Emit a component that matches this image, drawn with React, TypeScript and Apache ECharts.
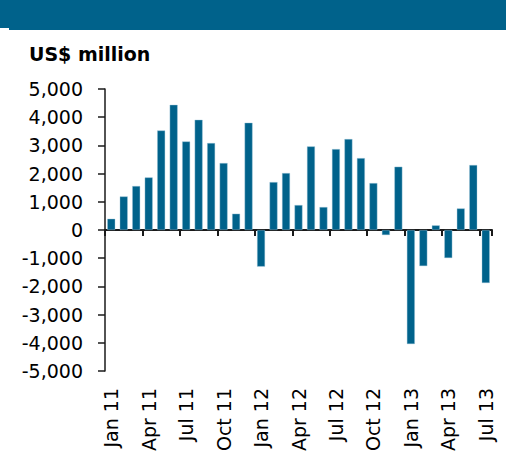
import React, { useEffect, useRef } from "react";
import * as echarts from "echarts";

const months = [
  "Jan 11", "Feb 11", "Mar 11", "Apr 11", "May 11", "Jun 11", "Jul 11", "Aug 11", "Sep 11", "Oct 11", "Nov 11", "Dec 11",
  "Jan 12", "Feb 12", "Mar 12", "Apr 12", "May 12", "Jun 12", "Jul 12", "Aug 12", "Sep 12", "Oct 12", "Nov 12", "Dec 12",
  "Jan 13", "Feb 13", "Mar 13", "Apr 13", "May 13", "Jun 13", "Jul 13",
];

const values = [
  400, 1190, 1560, 1865, 3530, 4440, 3140, 3910, 3085, 2375, 578, 3805,
  -1300, 1700, 2020, 885, 2965, 815, 2870, 3225, 2550, 1665, -180, 2245,
  -4045, -1280, 165, -995, 765, 2305, -1880,
];

const unitLabel = "US$ million";

const FONT = "DejaVu Sans";
const BAR = "#00628B";

function fmt(v: number): string {
  const s = Math.abs(v).toString().replace(/\B(?=(\d{3})+(?!\d))/g, ",");
  return (v < 0 ? "-" : "") + s;
}

export default function App() {
  const ref = useRef<HTMLDivElement>(null);
  useEffect(() => {
    if (!ref.current) return;
    const chart = echarts.init(ref.current, undefined, { renderer: "svg" });
    chart.setOption({
      animation: false,
      backgroundColor: "#ffffff",
      graphic: [
        { type: "rect", shape: { x: 0, y: 0, width: 506, height: 30 }, style: { fill: BAR } },
        { type: "rect", shape: { x: 0, y: 28, width: 9, height: 2 }, style: { fill: "#ffffff" } },
        {
          type: "text",
          left: 29,
          top: 44,
          style: { text: unitLabel, font: `bold 19px "${FONT}"`, fill: "#000000" },
        },
      ],
      grid: { left: 105, right: 14, top: 89, bottom: 84, containLabel: false },
      xAxis: [
        {
          type: "category",
          data: months,
          position: "bottom",
          axisLine: { show: false, onZero: false },
          axisTick: { show: false },
          axisLabel: {
            interval: 2,
            rotate: 90,
            margin: 17,
            fontFamily: FONT,
            fontSize: 19,
            color: "#000000",
          },
        },
        {
          type: "category",
          data: months,
          position: "top",
          axisLine: { show: true, onZero: true, lineStyle: { color: "#1a1a1a", width: 2 } },
          axisTick: { show: true, interval: 2, inside: true, length: 6, lineStyle: { color: "#1a1a1a", width: 2 } },
          axisLabel: { show: false },
        },
      ],
      yAxis: {
        type: "value",
        min: -5000,
        max: 5000,
        interval: 1000,
        splitLine: { show: false },
        axisLine: { show: true, lineStyle: { color: "#1a1a1a", width: 1.5 } },
        axisTick: { show: true, length: 7, lineStyle: { color: "#1a1a1a", width: 1.5 } },
        axisLabel: {
          margin: 22,
          fontFamily: FONT,
          fontSize: 19,
          color: "#000000",
          formatter: (v: number) => fmt(v),
        },
      },
      series: [
        {
          type: "bar",
          data: values,
          xAxisIndex: 0,
          barWidth: 8,
          itemStyle: { color: BAR, borderColor: "rgba(160,200,220,0.8)", borderWidth: 0.5 },
        },
      ],
    });
    return () => chart.dispose();
  }, []);
  return <div ref={ref} style={{ position: "fixed", left: 0, top: 0, width: 506, height: 455 }} />;
}
